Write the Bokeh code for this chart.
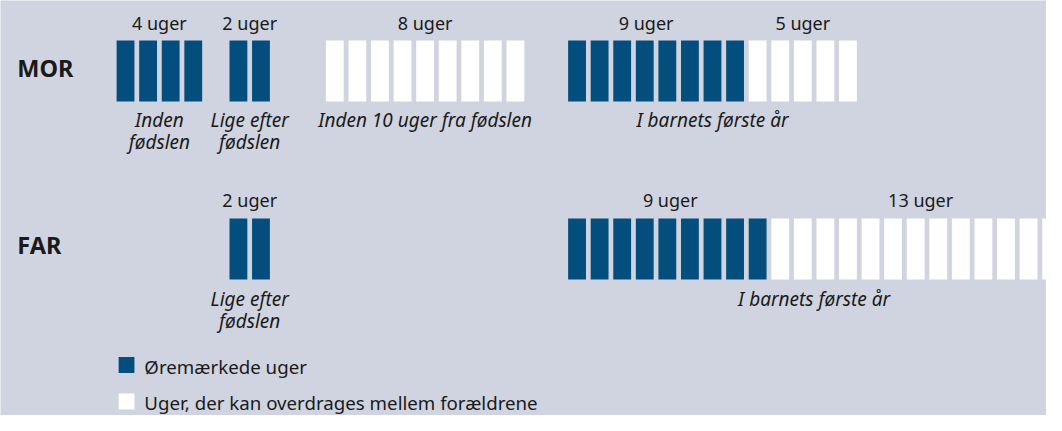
from bokeh.plotting import figure
from bokeh.models import Range1d
from bokeh.core.properties import value
from bokeh.embed import file_html
from bokeh.resources import INLINE

# ---------------- data ----------------
rows = ["MOR", "FAR"]

mor_seg_counts = [4, 2, 9, 8, 5]
mor_seg_types = ["ore", "ore", "free", "ore", "free"]
mor_seg_labels = ["4 uger", "2 uger", "8 uger", "9 uger", "5 uger"]
mor_periods = ["Inden\nfødslen", "Lige efter\nfødslen", "Inden 10 uger fra fødslen", "I barnets første år"]
mor_period_segs = [[0], [1], [2], [3, 4]]

far_seg_counts = [2, 9, 13]
far_seg_types = ["ore", "ore", "free"]
far_seg_labels = ["2 uger", "9 uger", "13 uger"]
far_periods = ["Lige efter\nfødslen", "I barnets første år"]
far_period_segs = [[0], [1, 2]]

legend_types = ["ore", "free"]
legend_labels = ["Øremærkede uger", "Uger, der kan overdrages mellem forældrene"]

# ---------------- layout / style ----------------
BG = "#d0d4e0"
COLORS = {"ore": "#044e7e", "free": "#ffffff"}
TXT = "#1a1a1a"
FONT = "Noto Sans"
BAR_W = 0.79
LAB_SIZE, PER_SIZE, NAME_SIZE, LEG_SIZE = 18, 19, 23.5, 18.7
MID = 0.30  # baseline -> middle offset (em)
mor_seg_starts = [0, 5, 9.27, 20, 28]
mor_label_nudge = [0, 0, 0, -0.44, 0]
far_seg_starts = [5, 20, 29]
far_label_nudge = [0, 0.13, 0.22]
row_layout = {
    "MOR": dict(top=40, bottom=101, lab_base=28, name_base=74.5, per_base=125, per_lh=21.7),
    "FAR": dict(top=218, bottom=279, lab_base=205, name_base=251.3, per_base=304, per_lh=21.7),
}

p = figure(width=1046, height=415, output_backend="svg", toolbar_location=None,
           x_range=Range1d(-5.143, 41.19), y_range=Range1d(415, 0),
           min_border=0, background_fill_color=BG, border_fill_color=BG,
           outline_line_color=None)
p.axis.visible = False
p.grid.visible = False

row_data = {
    "MOR": (mor_seg_counts, mor_seg_types, mor_seg_labels, mor_seg_starts, mor_periods, mor_period_segs, mor_label_nudge),
    "FAR": (far_seg_counts, far_seg_types, far_seg_labels, far_seg_starts, far_periods, far_period_segs, far_label_nudge),
}

bl, br, bt, bb, bc = [], [], [], [], []
tx, ty, tt = [], [], []
ix, iy, it = [], [], []
nx, ny, nt = [], [], []
for r in rows:
    counts, types, labels, starts, periods, psegs, nudge = row_data[r]
    L = row_layout[r]
    for c, t, lab, s, n in zip(counts, types, labels, starts, nudge):
        for i in range(c):
            bl.append(s + i)
            br.append(s + i + BAR_W)
            bt.append(L["top"])
            bb.append(L["bottom"])
            bc.append(COLORS[t])
        tx.append(s + (c - 1 + BAR_W) / 2 + n)
        ty.append(L["lab_base"] - MID * LAB_SIZE)
        tt.append(lab)
    for per, segs in zip(periods, psegs):
        left = starts[segs[0]]
        right = starts[segs[-1]] + counts[segs[-1]] - 1 + BAR_W
        cx = (left + right) / 2
        for j, line in enumerate(per.split("\n")):
            ix.append(cx)
            iy.append(L["per_base"] + j * L["per_lh"] - MID * PER_SIZE)
            it.append(line)
    nx.append(-4.396)
    ny.append(L["name_base"] - MID * NAME_SIZE)
    nt.append(r)

p.quad(left=bl, right=br, top=bt, bottom=bb, fill_color=bc, line_color=None)

p.text(x=tx, y=ty, text=tt, text_font=value(FONT), text_font_size=f"{LAB_SIZE}px",
       text_align="center", text_baseline="middle", text_color=TXT)
p.text(x=ix, y=iy, text=it, text_font=value(FONT), text_font_size=f"{PER_SIZE}px",
       text_font_style="italic", text_align="center", text_baseline="middle", text_color=TXT)
p.text(x=nx, y=ny, text=nt, text_font=value(FONT), text_font_size=f"{NAME_SIZE}px",
       text_font_style="bold", text_align="left", text_baseline="middle", text_color=TXT)

# legend (moved up slightly so that it fits inside the page)
leg_base = [371.5, 408]
leg_top = [b - 15 for b in leg_base]
p.quad(left=[0.09] * 2, right=[0.79] * 2, top=leg_top, bottom=[t + 16 for t in leg_top],
       fill_color=[COLORS[t] for t in legend_types], line_color=None)
p.text(x=[1.23] * 2, y=[b - MID * LEG_SIZE for b in leg_base], text=legend_labels,
       text_font=value(FONT), text_font_size=f"{LEG_SIZE}px", text_align="left",
       text_baseline="middle", text_color=TXT)

open("out.html", "w").write(file_html(p, INLINE))
